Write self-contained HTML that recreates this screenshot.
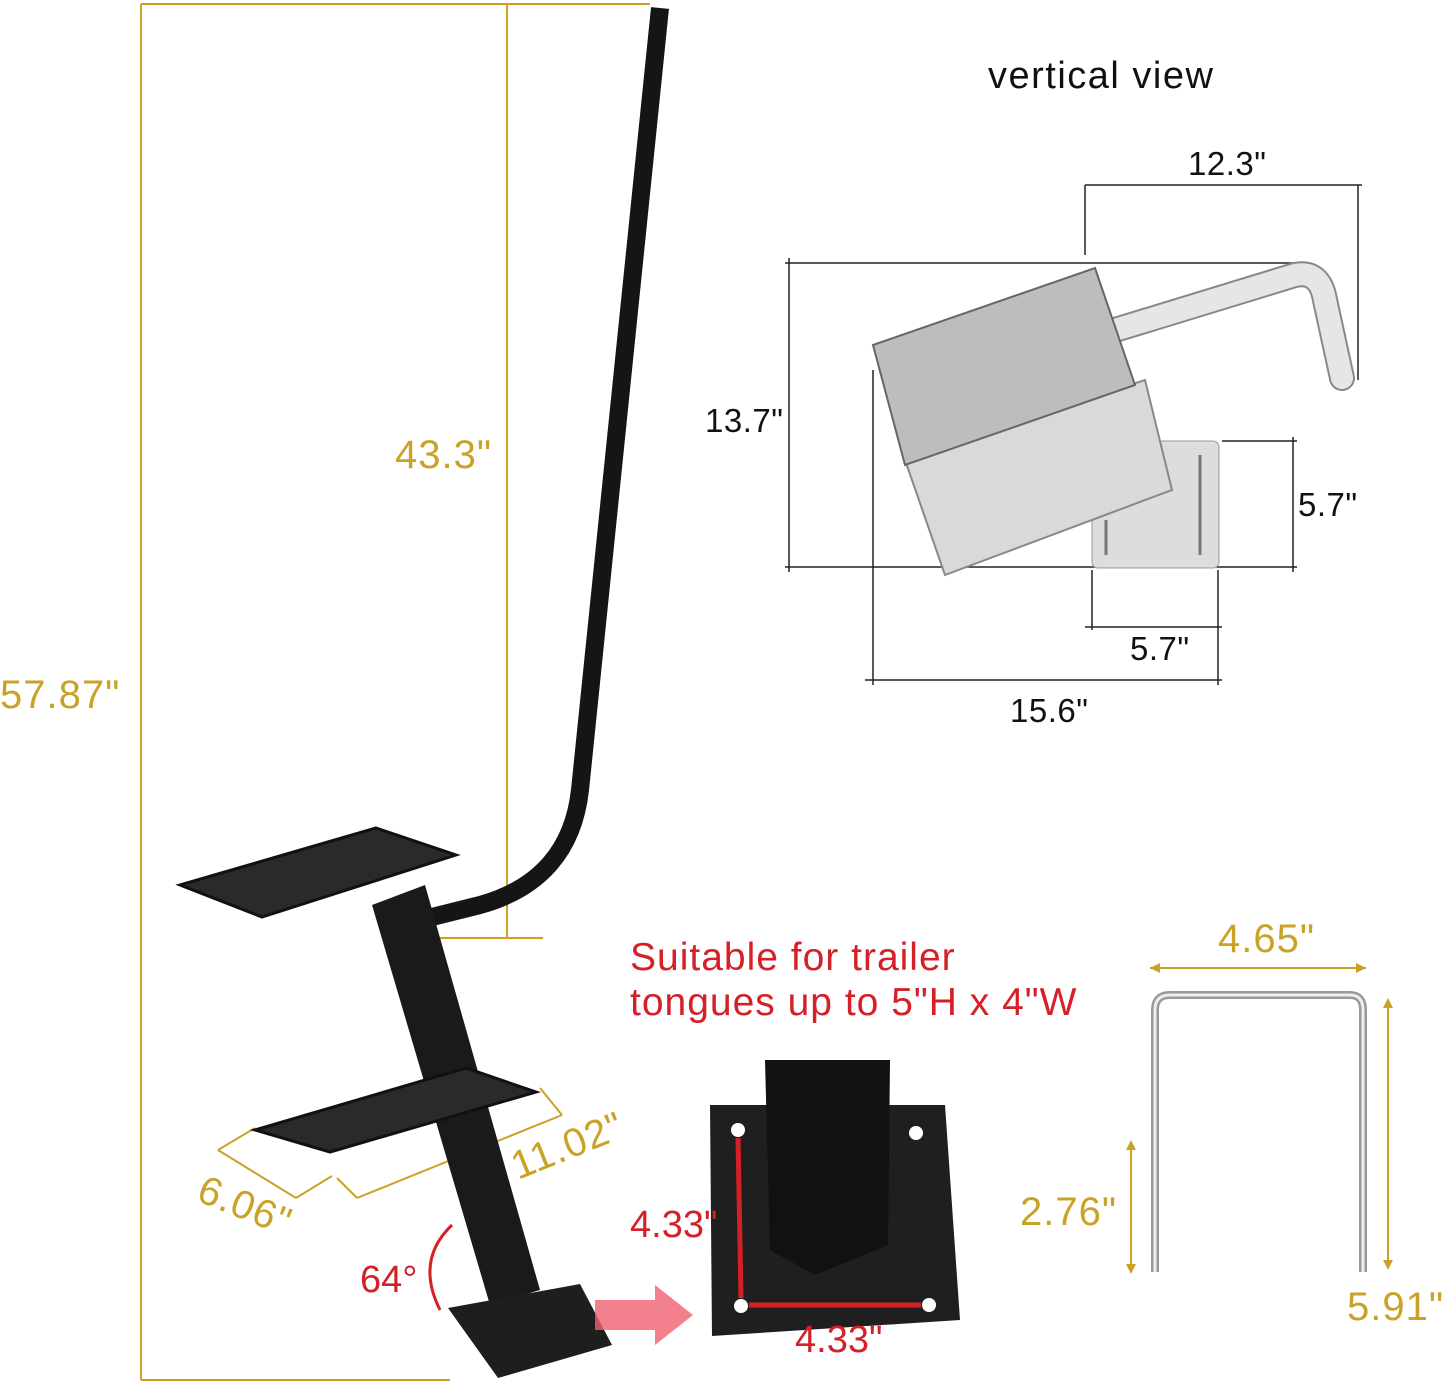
<!DOCTYPE html>
<html><head><meta charset="utf-8"><style>
html,body{margin:0;padding:0;background:#fff;}
svg{display:block;}
text{font-family:"Liberation Sans",sans-serif;}
</style></head><body>
<svg width="1445" height="1386" viewBox="0 0 1445 1386" xmlns="http://www.w3.org/2000/svg">
<g stroke="#c9a227" stroke-width="2" fill="none">
<line x1="141" y1="4" x2="650" y2="4"/>
<line x1="141" y1="4" x2="141" y2="1380"/>
<line x1="141" y1="1380" x2="450" y2="1380"/>
<line x1="507" y1="4" x2="507" y2="938"/>
<line x1="440" y1="938" x2="543" y2="938"/>
<line x1="218" y1="1150" x2="296" y2="1198"/>
<line x1="296" y1="1198" x2="332" y2="1176"/>
<line x1="218" y1="1150" x2="255" y2="1128"/>
<line x1="337" y1="1178" x2="357" y2="1198"/>
<line x1="357" y1="1198" x2="562" y2="1115"/>
<line x1="562" y1="1115" x2="540" y2="1088"/>
<line x1="1150" y1="968" x2="1366" y2="968"/>
<line x1="1388" y1="1000" x2="1388" y2="1268"/>
<line x1="1131" y1="1142" x2="1131" y2="1272"/>
</g>
<g fill="#c9a227">
<polygon points="1150,968 1160,963 1160,973"/><polygon points="1366,968 1356,963 1356,973"/>
<polygon points="1388,998 1383,1008 1393,1008"/><polygon points="1388,1270 1383,1260 1393,1260"/>
<polygon points="1131,1140 1126,1150 1136,1150"/><polygon points="1131,1274 1126,1264 1136,1264"/>
</g>
<g fill="#c9a227" font-size="40" letter-spacing="1">
<text x="0" y="708">57.87"</text>
<text x="395" y="468">43.3"</text>
<text x="1218" y="952">4.65"</text>
<text x="1020" y="1225">2.76"</text>
<text x="1347" y="1320">5.91"</text>
<text x="0" y="0" transform="translate(195,1200) rotate(22)">6.06"</text>
<text x="0" y="0" transform="translate(518,1180) rotate(-22)">11.02"</text>
</g>
<path d="M660,8 L580,790 Q570,880 480,905 L420,920" stroke="#151515" stroke-width="18" fill="none"/>
<polygon points="372,905 425,885 540,1290 490,1305" fill="#1a1a1a"/>
<polygon points="180,885 376,828 456,855 262,917" fill="#2a2a2a" stroke="#111" stroke-width="3"/>
<polygon points="255,1130 466,1068 536,1092 330,1152" fill="#2a2a2a" stroke="#111" stroke-width="3"/>
<polygon points="448,1308 580,1284 612,1345 498,1378" fill="#1e1e1e"/>
<path d="M452,1225 Q415,1260 440,1310" stroke="#d42027" stroke-width="3" fill="none"/>
<text x="360" y="1292" font-size="38" fill="#d42027">64°</text>
<polygon points="595,1300 655,1300 655,1285 693,1315 655,1345 655,1330 595,1330" fill="#f06070" opacity="0.8"/>
<text x="630" y="970" font-size="39" fill="#d42027" letter-spacing="1">Suitable for trailer</text>
<text x="630" y="1015" font-size="39" fill="#d42027" letter-spacing="1">tongues up to 5"H x 4"W</text>
<polygon points="710,1105 945,1105 960,1320 712,1336" fill="#1f1f1f"/>
<polygon points="765,1060 890,1060 888,1245 815,1275 770,1250" fill="#111"/>
<g fill="#fff"><circle cx="738" cy="1130" r="7"/><circle cx="916" cy="1133" r="7"/><circle cx="741" cy="1306" r="7"/><circle cx="929" cy="1305" r="7"/></g>
<g stroke="#d42027" stroke-width="5"><line x1="738" y1="1138" x2="741" y2="1298"/><line x1="749" y1="1305" x2="921" y2="1305"/></g>
<text x="630" y="1237" font-size="38" fill="#d42027">4.33"</text>
<text x="795" y="1352" font-size="38" fill="#d42027">4.33"</text>
<path d="M1155,1272 L1155,1010 Q1155,995 1170,995 L1350,995 Q1363,995 1363,1010 L1363,1272" stroke="#999" stroke-width="8" fill="none"/>
<path d="M1155,1272 L1155,1010 Q1155,995 1170,995 L1350,995 Q1363,995 1363,1010 L1363,1272" stroke="#eee" stroke-width="3" fill="none"/>
<text x="988" y="88" font-size="38" fill="#111" letter-spacing="1.5">vertical view</text>
<g stroke="#222" stroke-width="1.5" fill="none">
<line x1="1085" y1="185" x2="1362" y2="185"/><line x1="1085" y1="185" x2="1085" y2="255"/><line x1="1358" y1="185" x2="1358" y2="380"/>
<line x1="785" y1="263" x2="1300" y2="263"/><line x1="789" y1="258" x2="789" y2="572"/>
<line x1="785" y1="567" x2="1297" y2="567"/>
<line x1="1222" y1="441" x2="1297" y2="441"/><line x1="1293" y1="437" x2="1293" y2="572"/>
<line x1="1085" y1="627" x2="1222" y2="627"/><line x1="1092" y1="570" x2="1092" y2="630"/><line x1="1218" y1="570" x2="1218" y2="685"/>
<line x1="865" y1="680" x2="1222" y2="680"/><line x1="873" y1="370" x2="873" y2="685"/>
</g>
<path d="M1115,330 L1295,275 Q1320,270 1325,300 L1342,378" stroke="#888" stroke-width="26" fill="none" stroke-linecap="round"/>
<path d="M1115,330 L1295,275 Q1320,270 1325,300 L1342,378" stroke="#e6e6e6" stroke-width="22" fill="none" stroke-linecap="round"/>
<rect x="1092" y="441" width="127" height="127" rx="6" fill="#ddd" stroke="#999"/>
<g stroke="#777" stroke-width="3"><line x1="1200" y1="455" x2="1200" y2="555"/><line x1="1106" y1="520" x2="1106" y2="555"/></g>
<polygon points="905,460 1145,380 1172,490 945,575" fill="#d9d9d9" stroke="#888" stroke-width="2"/>
<polygon points="873,345 1095,268 1135,385 905,465" fill="#bdbdbd" stroke="#666" stroke-width="2"/>
<g fill="#111" font-size="33" letter-spacing="0.5">
<text x="1188" y="175">12.3"</text>
<text x="705" y="432">13.7"</text>
<text x="1298" y="516">5.7"</text>
<text x="1130" y="660">5.7"</text>
<text x="1010" y="722">15.6"</text>
</g>
</svg>
</body></html>
